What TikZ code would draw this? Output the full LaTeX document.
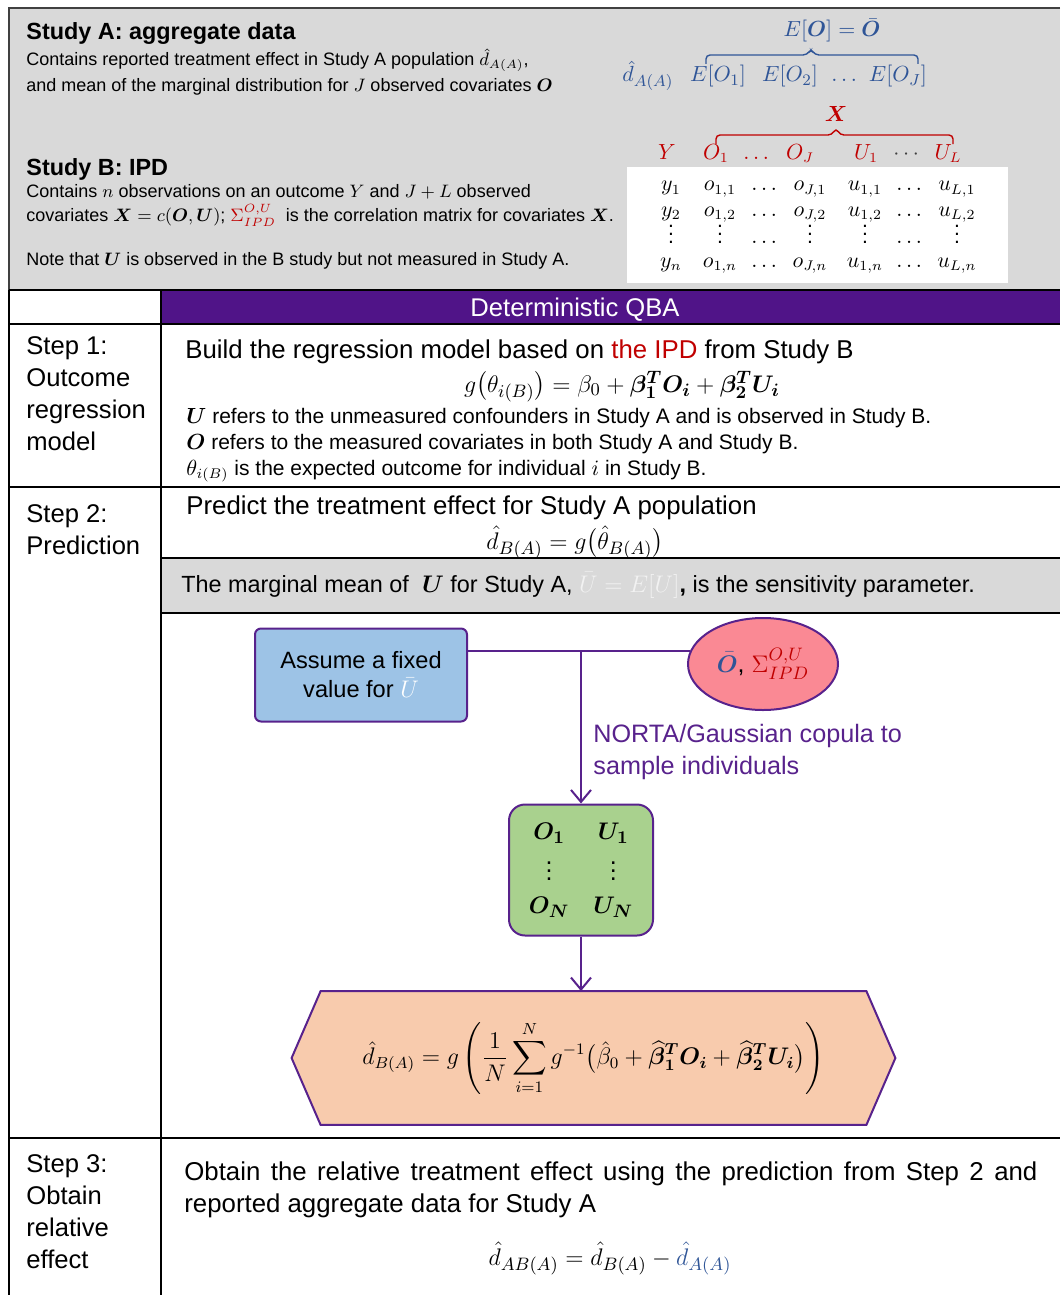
\documentclass[tikz,border=0pt]{standalone}
\usepackage{amsmath,bm}
\usepackage{fontspec}
\setmainfont{Liberation Sans}
\usetikzlibrary{arrows.meta,shapes.geometric,backgrounds}

\definecolor{bandgray}{RGB}{217,217,217}
\definecolor{qbapurple}{RGB}{80,20,136}
\definecolor{flowpurple}{RGB}{88,34,140}
\definecolor{darkred}{RGB}{192,0,0}
\definecolor{oblue}{RGB}{47,85,151}
\definecolor{boxblue}{RGB}{157,195,230}
\definecolor{ellpink}{RGB}{250,137,148}
\definecolor{boxgreen}{RGB}{169,209,142}
\definecolor{hexpeach}{RGB}{248,203,173}
\definecolor{faint}{RGB}{242,242,242}

\tikzset{
  grid/.style={line width=1.2pt, black},
  titletxt/.style={anchor=base west, inner sep=0pt, font=\fontsize{11.7}{14}\selectfont\bfseries},
  bodytxt/.style={anchor=base west, inner sep=0pt, font=\fontsize{9}{11}\selectfont},
  steptxt/.style={anchor=north west, inner sep=0pt, align=left, font=\fontsize{12.8}{16}\selectfont},
  maintxt/.style={anchor=base west, inner sep=0pt, font=\fontsize{12.9}{15}\selectfont},
  notetxt/.style={anchor=base west, inner sep=0pt, font=\fontsize{10.5}{13}\selectfont},
  eqn/.style={anchor=base, inner sep=0pt, font=\fontsize{13}{16}\selectfont},
  topmath/.style={anchor=base, inner sep=0pt, text=oblue, font=\fontsize{11}{13}\selectfont},
  cellmath/.style={anchor=base, inner sep=0pt, font=\fontsize{10.5}{13}\selectfont},
  flowbox/.style={draw=flowpurple, line width=1pt},
  flowline/.style={flowpurple, line width=1pt},
  flowarrow/.style={flowline, -{Straight Barb[length=6pt,width=10pt]}},
}

\begin{document}
\begin{tikzpicture}[x=0.5pt, y=-0.5pt]
    \useasboundingbox (0,0) rectangle (1060,1295);

    % top band: study A and study B
    \fill[bandgray] (9,8) rectangle (1060,290);
    \draw[line width=1.2pt, black!75] (1060,8) -- (9,8) -- (9,290);
    \node[titletxt] (studyA) at (26,40) {Study A: aggregate data};
    \node[bodytxt] (studyA1) at (26,66) {Contains reported treatment effect in Study A population $\hat d_{A(A)}$,};
    \node[bodytxt] (studyA2) at (26,91) {and mean of the marginal distribution for $J$ observed covariates $\bm O$};
    \node[titletxt] (studyB) at (26,175) {Study B: IPD};
    \node[bodytxt] (studyB1) at (26,197) {Contains $n$ observations on an outcome $Y$ and $J+L$ observed};
    \node[bodytxt] (studyB2) at (26,221) {covariates $\bm X = c(\bm O,\bm U)$; $\color{darkred}\Sigma^{O,U}_{IPD}$\ \ is the correlation matrix for covariates $\bm X$.};
    \node[bodytxt] (studyB3) at (26,265) {Note that $\bm U$ is observed in the B study but not measured in Study A.};

    % aggregate data row
    \node[topmath] (Obar) at (832,37) {$E[\bm O] = \bar{\bm O}$};
    \foreach \x/\t/\n in {648/\hat d_{A(A)}/dAA, 718/E[O_1]/EO1, 790/E[O_2]/EO2, 846/\dots/EOd, 898/E[O_J]/EOJ}
        \node[topmath] (\n) at (\x,82) {$\t$};
    \draw[oblue, line width=0.7pt, rounded corners=2pt] (706,64) -- (706,55) -- (807,55) -- (811,49) -- (815,55) -- (918,55) -- (918,64);

    % IPD table
    \node[topmath, text=darkred] (Xall) at (836,121) {$\bm X$};
    \draw[darkred, line width=0.7pt, rounded corners=2pt] (716,144) -- (716,135) -- (832,135) -- (836,128) -- (840,135) -- (953,135) -- (953,144);
    \fill[white] (627,167) rectangle (1008,283);
    \foreach \x/\t [count=\c] in {667/Y, 716/O_1, 758/\dots, 800/O_J, 866/U_1, 908/{\color{darkgray}\cdots}, 948/U_L}
        \node[cellmath, text=darkred] (h\c) at (\x,159) {$\t$};
    \foreach \x/\a/\b/\v/\d [count=\c] in {671/y_1/y_2/\vdots/y_n, 720/o_{1,1}/o_{1,2}/\vdots/o_{1,n}, 766/\dots/\dots/\dots/\dots, 810/o_{J,1}/o_{J,2}/\vdots/o_{J,n}, 865/u_{1,1}/u_{1,2}/\vdots/u_{1,n}, 911/\dots/\dots/\dots/\dots, 957/u_{L,1}/u_{L,2}/\vdots/u_{L,n}}
    {
        \node[cellmath] (r\c-1) at (\x,191) {$\a$};
        \node[cellmath] (r\c-2) at (\x,216) {$\b$};
        \node[cellmath] (r\c-3) at (\x,243) {$\v$};
        \node[cellmath] (r\c-4) at (\x,267) {$\d$};
    }

    % table frame
    \fill[qbapurple] (161,290) rectangle (1060,324);
    \fill[bandgray] (161,558) rectangle (1060,613);
    \draw[grid] (9,290) -- (9,1295);
    \draw[grid] (161,290) -- (161,1295);
    \foreach \y in {290,324,487,1138}
        \draw[grid] (9,\y) -- (1060,\y);
    \draw[grid] (161,558) -- (1060,558);
    \draw[grid] (161,613) -- (1060,613);
    \node[anchor=base, inner sep=0pt, text=white, font=\fontsize{12.8}{15}\selectfont] (qba) at (575,316) {Deterministic QBA};

    % step labels
    \node[steptxt] (step1) at (26,336) {Step 1:\\Outcome\\regression\\model};
    \node[steptxt] (step2) at (26,504) {Step 2:\\Prediction};
    \node[steptxt] (step3) at (26,1154) {Step 3:\\Obtain\\relative\\effect};

    % step 1
    \node[maintxt] (build) at (185,358) {Build the regression model based on {\color{darkred}the IPD} from Study B};
    \node[eqn] (model) at (622,392) {$g\big(\theta_{i(B)}\big) = \beta_0 + \bm{\beta_1^T O_i} + \bm{\beta_2^T U_i}$};
    \node[notetxt] (noteU) at (186,423) {$\bm U$ refers to the unmeasured confounders in Study A and is observed in Study B.};
    \node[notetxt] (noteO) at (186,449) {$\bm O$ refers to the measured covariates in both Study A and Study B.};
    \node[notetxt] (noteT) at (186,475) {$\theta_{i(B)}$ is the expected outcome for individual $i$ in Study B.};

    % step 2
    \node[maintxt] (predict) at (186,514) {Predict the treatment effect for Study A population};
    \node[eqn] (pred) at (575,549) {$\hat d_{B(A)} = g\big(\hat\theta_{B(A)}\big)$};
    \node[maintxt, font=\fontsize{11.7}{14}\selectfont] (sens) at (181,592) {The marginal mean of \ $\bm U$ for Study A, $\color{faint}\bar U = E[U]$\textbf{,} is the sensitivity parameter.};

    % flowchart
    \node[flowbox, fill=boxblue, rounded corners=3pt, minimum width=106pt, minimum height=46.5pt, align=center,
          font=\fontsize{11.8}{14.5}\selectfont] (fixed) at (361,675) {Assume a fixed\\value for $\color{white}\bar U$};
    \node[flowbox, fill=ellpink, ellipse, minimum width=75pt, minimum height=46pt, inner sep=0pt,
          font=\fontsize{12.5}{15}\selectfont] (params) at (763,664) {$\color{oblue}\bar{\bm O}$, $\color{darkred}\Sigma^{O,U}_{IPD}$};
    \node[flowbox, fill=boxgreen, rounded corners=8pt, minimum width=72pt, minimum height=65.5pt,
          font=\fontsize{12.5}{15}\selectfont] (sample) at (581,870)
          {$\renewcommand{\arraystretch}{1.1}\begin{array}{c@{\hspace{12pt}}c} \bm{O_1} & \bm{U_1}\\ \vdots & \vdots\\ \bm{O_N} & \bm{U_N} \end{array}$};
    \node[minimum width=272.5pt, minimum height=66.5pt, font=\fontsize{12}{14}\selectfont] (estimate) at (593.5,1058)
          {$\displaystyle \hat d_{B(A)} = g\left(\frac{1}{N}\sum_{i=1}^{N} g^{-1}\big(\hat\beta_0 + \widehat{\bm\beta}{}_{\bm 1}^{\bm T}\bm O_{\bm i} + \widehat{\bm\beta}{}_{\bm 2}^{\bm T}\bm U_{\bm i}\big)\right)$};
    \begin{scope}[on background layer]
        \draw[flowbox, fill=hexpeach] (estimate.north west) -- (estimate.north east) -- ([xshift=14.5pt]estimate.east)
            -- (estimate.south east) -- (estimate.south west) -- ([xshift=-14.5pt]estimate.west) -- cycle;
    \end{scope}
    \coordinate (join) at (sample.north |- params.170);
    \draw[flowline] (fixed.east |- params.170) -- (params.170);
    \draw[flowarrow] (join) -- (sample.north);
    \draw[flowarrow] (sample.south) -- (sample.south |- estimate.north);
    \node[anchor=north west, inner sep=0pt, align=left, text=flowpurple, font=\fontsize{12.6}{16}\selectfont] (norta) at (593,724)
          {NORTA/Gaussian copula to\\sample individuals};

    % step 3
    \node[maintxt] (obtain1) at (184,1180) {\makebox[426.5pt][s]{Obtain the relative treatment effect using the prediction from Step 2 and}};
    \node[maintxt] (obtain2) at (184,1212) {reported aggregate data for Study A};
    \node[eqn] (relative) at (610,1265) {$\hat d_{AB(A)} = \hat d_{B(A)} - {\color{oblue}\hat d_{A(A)}}$};
\end{tikzpicture}
\end{document}
